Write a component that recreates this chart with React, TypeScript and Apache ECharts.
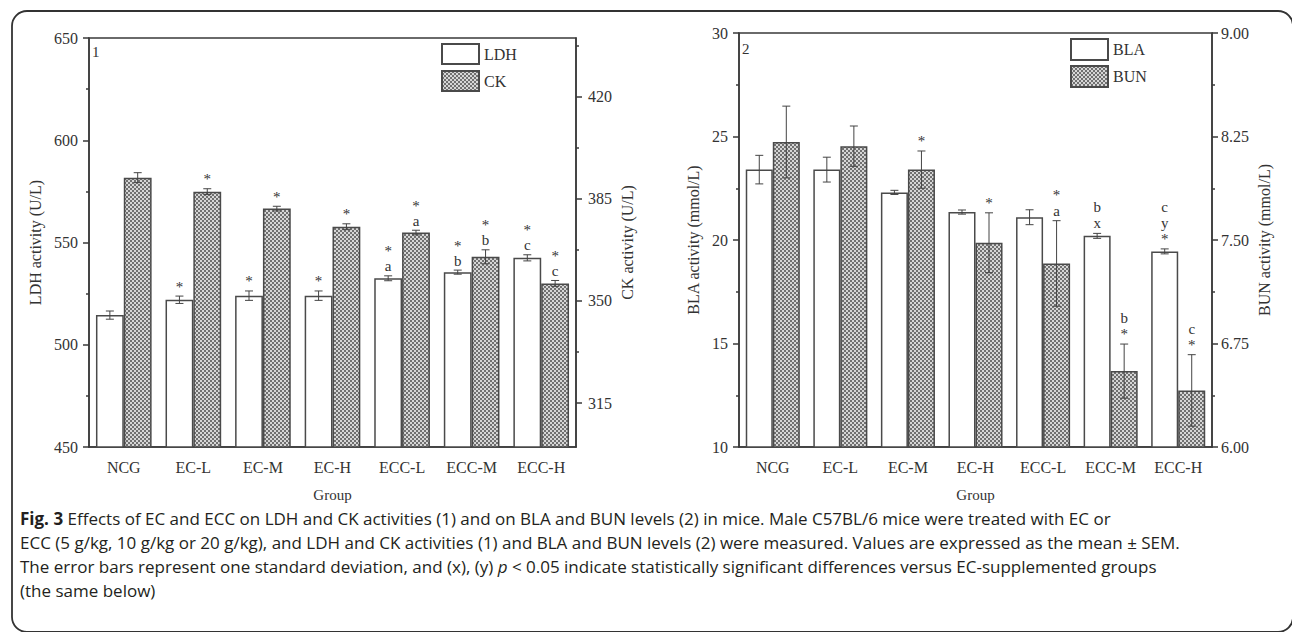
import React, { useEffect, useRef } from 'react';
import * as echarts from 'echarts';

const groups = ['NCG', 'EC-L', 'EC-M', 'EC-H', 'ECC-L', 'ECC-M', 'ECC-H'];

const ldhMean = [514.5, 522, 524, 524, 532.5, 535.5, 542.5];
const ldhErr = [2, 1.8, 2.3, 2.3, 1.2, 1.0, 1.5];
const ldhMarks = ['', '*', '*', '*', '*\na', '*\nb', '*\nc'];

const ckMean = [392.2, 387.4, 381.6, 375.4, 373.4, 365.1, 356.0];
const ckErr = [1.7, 1.0, 0.8, 1.0, 0.8, 2.4, 1.0];
const ckMarks = ['', '*', '*', '*', '*\na', '*\nb', '*\nc'];

const blaMean = [23.4, 23.4, 22.3, 21.35, 21.1, 20.2, 19.45];
const blaErr = [0.69, 0.6, 0.1, 0.1, 0.36, 0.12, 0.12];
const blaMarks = ['', '', '', '', '', 'b\nx', 'c\ny\n*'];

const bunMean = [8.21, 8.18, 8.01, 7.48, 7.33, 6.55, 6.41];
const bunErr = [0.26, 0.146, 0.135, 0.217, 0.31, 0.196, 0.259];
const bunMarks = ['', '', '*', '*', '*\na', 'b\n*', 'c\n*'];

const ckTicks = [315, 350, 385, 420];
const ckMinorTicks = [332.5, 367.5, 402.5, 437.5];

const captionLines = [
  '{b|Fig. 3} Effects of EC and ECC on LDH and CK activities (1) and on BLA and BUN levels (2) in mice. Male C57BL/6 mice were treated with EC or',
  'ECC (5 g/kg, 10 g/kg or 20 g/kg), and LDH and CK activities (1) and BLA and BUN levels (2) were measured. Values are expressed as the mean \u00b1 SEM.',
  'The error bars represent one standard deviation, and (x), (y) {i|p} < 0.05 indicate statistically significant differences versus EC-supplemented groups',
  '(the same below)',
];

const SERIF = '"Liberation Serif", "Times New Roman", serif';
const SANS = '"Open Sans", "Noto Sans", sans-serif';
const AX = '#3a3a3a';

function makePattern() {
  const c = document.createElement('canvas');
  c.width = 4;
  c.height = 4;
  const g = c.getContext('2d')!;
  g.fillStyle = '#707070';
  g.fillRect(0, 0, 4, 4);
  g.fillStyle = '#d6d6d6';
  g.fillRect(0, 0, 2, 2);
  g.fillRect(2, 2, 2, 2);
  return c;
}

function errRender(marks: string[], sign: number, lh: number) {
  return (params: any, api: any) => {
    const i = params.dataIndex;
    const x = api.value(0);
    const v = api.value(1);
    const e = api.value(2);
    const band = api.size([1, 0])[0];
    const barW = (band * 0.8) / 2;
    const cx = api.coord([x, v])[0] + (sign * barW) / 2;
    const yT = api.coord([x, v + e])[1];
    const yB = api.coord([x, v - e])[1];
    const cap = 4;
    const st = { stroke: '#444', lineWidth: 1 };
    const children: any[] = [
      { type: 'line', shape: { x1: cx, y1: yT, x2: cx, y2: yB }, style: st },
      { type: 'line', shape: { x1: cx - cap, y1: yT, x2: cx + cap, y2: yT }, style: st },
      { type: 'line', shape: { x1: cx - cap, y1: yB, x2: cx + cap, y2: yB }, style: st },
    ];
    if (marks[i]) {
      children.push({
        type: 'text',
        style: {
          text: marks[i],
          x: cx,
          y: yT - 2,
          textAlign: 'center',
          textVerticalAlign: 'bottom',
          font: `15px ${SERIF}`,
          fill: '#333',
          lineHeight: lh,
        },
      });
    }
    return { type: 'group', children };
  };
}

export default function App() {
  const ref = useRef<HTMLDivElement>(null);
  useEffect(() => {
    if (!ref.current) return;
    const chart = echarts.init(ref.current, undefined, { renderer: 'svg' });
    const pat = makePattern();
    const hatch = { image: pat, repeat: 'repeat' } as any;

    const axisLine = { show: true, lineStyle: { color: AX, width: 1.5 } };
    const labelStyle = { fontFamily: SERIF, fontSize: 16, color: '#333' };
    const nameStyle = { fontFamily: SERIF, fontSize: 16, color: '#333' };

    const option: any = {
      animation: false,
      backgroundColor: '#fff',
      grid: [
        { left: 89, top: 38, width: 487, height: 409, show: true, borderColor: AX, borderWidth: 1.5 },
        { left: 739, top: 33, width: 473, height: 414, show: true, borderColor: AX, borderWidth: 1.5 },
      ],
      xAxis: [0, 1].map((g) => ({
        type: 'category',
        gridIndex: g,
        data: groups,
        axisLine,
        axisTick: { show: false },
        axisLabel: { ...labelStyle, margin: 12 },
        name: 'Group',
        nameLocation: 'middle',
        nameGap: 40,
        nameTextStyle: { ...nameStyle, fontSize: 15 },
      })),
      yAxis: [
        {
          type: 'value', gridIndex: 0, position: 'left', min: 450, max: 650, interval: 50,
          axisLine, splitLine: { show: false },
          axisTick: { show: true, inside: false, length: 6, lineStyle: { color: AX, width: 1.5 } },
          minorTick: { show: true, splitNumber: 2, length: 3, lineStyle: { color: AX, width: 1.5 } },
          axisLabel: { ...labelStyle, margin: 11 },
          name: 'LDH activity (U/L)', nameLocation: 'middle', nameGap: 46, nameTextStyle: nameStyle,
        },
        {
          type: 'value', gridIndex: 0, position: 'right', min: 300, max: 440,
          axisLine, splitLine: { show: false },
          axisTick: { show: true, inside: false, length: 6, customValues: ckTicks, lineStyle: { color: AX, width: 1.5 } },
          axisLabel: { ...labelStyle, margin: 12, customValues: ckTicks },
          name: 'CK activity (U/L)', nameLocation: 'middle', nameGap: 43, nameTextStyle: nameStyle,
        },
        {
          type: 'value', gridIndex: 0, position: 'right', min: 300, max: 440,
          axisLine: { show: false }, splitLine: { show: false },
          axisTick: { show: true, inside: false, length: 3, customValues: ckMinorTicks, lineStyle: { color: AX, width: 1.5 } },
          axisLabel: { show: false },
        },
        {
          type: 'value', gridIndex: 1, position: 'left', min: 10, max: 30, interval: 5,
          axisLine, splitLine: { show: false },
          axisTick: { show: true, inside: false, length: 6, lineStyle: { color: AX, width: 1.5 } },
          minorTick: { show: true, splitNumber: 2, length: 3, lineStyle: { color: AX, width: 1.5 } },
          axisLabel: { ...labelStyle, margin: 11 },
          name: 'BLA activity (mmol/L)', nameLocation: 'middle', nameGap: 38, nameTextStyle: nameStyle,
        },
        {
          type: 'value', gridIndex: 1, position: 'right', min: 6, max: 9, interval: 0.75,
          axisLine, splitLine: { show: false },
          axisTick: { show: true, inside: false, length: 6, lineStyle: { color: AX, width: 1.5 } },
          minorTick: { show: true, splitNumber: 2, length: 3, lineStyle: { color: AX, width: 1.5 } },
          axisLabel: { ...labelStyle, margin: 9, formatter: (v: number) => v.toFixed(2) },
          name: 'BUN activity (mmol/L)', nameLocation: 'middle', nameGap: 44, nameTextStyle: nameStyle,
        },
      ],
      legend: [
        {
          left: 441, top: 43, padding: 0, orient: 'vertical', itemWidth: 37, itemHeight: 20, itemGap: 5,
          data: ['LDH', 'CK'], icon: 'rect', textStyle: { ...labelStyle }, selectedMode: false,
        },
        {
          left: 1070, top: 38, padding: 0, orient: 'vertical', itemWidth: 37, itemHeight: 21, itemGap: 4,
          data: ['BLA', 'BUN'], icon: 'rect', textStyle: { ...labelStyle }, selectedMode: false,
        },
      ],
      series: [
        {
          type: 'bar', name: 'LDH', xAxisIndex: 0, yAxisIndex: 0, data: ldhMean,
          barGap: '0%', barCategoryGap: '20%',
          itemStyle: { color: '#fff', borderColor: '#4a4a4a', borderWidth: 1.5 },
        },
        {
          type: 'bar', name: 'CK', xAxisIndex: 0, yAxisIndex: 1, data: ckMean,
          barGap: '0%', barCategoryGap: '20%',
          itemStyle: { color: hatch, borderColor: '#4a4a4a', borderWidth: 1.5 },
        },
        {
          type: 'bar', name: 'BLA', xAxisIndex: 1, yAxisIndex: 3, data: blaMean,
          barGap: '0%', barCategoryGap: '20%',
          itemStyle: { color: '#fff', borderColor: '#4a4a4a', borderWidth: 1.5 },
        },
        {
          type: 'bar', name: 'BUN', xAxisIndex: 1, yAxisIndex: 4, data: bunMean,
          barGap: '0%', barCategoryGap: '20%',
          itemStyle: { color: hatch, borderColor: '#4a4a4a', borderWidth: 1.5 },
        },
        {
          type: 'custom', xAxisIndex: 0, yAxisIndex: 0, z: 5, clip: false,
          data: groups.map((_, i) => [i, ldhMean[i], ldhErr[i]]),
          renderItem: errRender(ldhMarks, -1, 15),
        },
        {
          type: 'custom', xAxisIndex: 0, yAxisIndex: 1, z: 5, clip: false,
          data: groups.map((_, i) => [i, ckMean[i], ckErr[i]]),
          renderItem: errRender(ckMarks, 1, 15),
        },
        {
          type: 'custom', xAxisIndex: 1, yAxisIndex: 3, z: 5, clip: false,
          data: groups.map((_, i) => [i, blaMean[i], blaErr[i]]),
          renderItem: errRender(blaMarks, -1, 16),
        },
        {
          type: 'custom', xAxisIndex: 1, yAxisIndex: 4, z: 5, clip: false,
          data: groups.map((_, i) => [i, bunMean[i], bunErr[i]]),
          renderItem: errRender(bunMarks, 1, 16),
        },
      ],
      graphic: [
        {
          type: 'rect', left: 9.5, top: 8.5, silent: true, z: -10,
          shape: { x: 0, y: 0, width: 1281, height: 621, r: 15 },
          style: { fill: 'none', stroke: '#333', lineWidth: 1.8 },
        },
        { type: 'text', x: 92, y: 44, style: { text: '1', font: `15px ${SERIF}`, fill: '#333' } },
        { type: 'text', x: 742, y: 41, style: { text: '2', font: `15px ${SERIF}`, fill: '#333' } },
        ...captionLines.map((t, k) => ({
          type: 'text',
          x: 20,
          y: 518 + k * 24,
          style: {
            text: t,
            textVerticalAlign: 'middle',
            font: `17px ${SANS}`,
            fill: '#231f20',
            rich: {
              b: { fontWeight: 'bold', fontFamily: SANS, fontSize: 17, fill: '#231f20' },
              i: { fontStyle: 'italic', fontFamily: SANS, fontSize: 17, fill: '#231f20' },
            },
          },
        })),
      ],
    };
    chart.setOption(option);
    return () => chart.dispose();
  }, []);
  return <div ref={ref} style={{ position: 'absolute', left: 0, top: 0, width: 1292, height: 632 }} />;
}
